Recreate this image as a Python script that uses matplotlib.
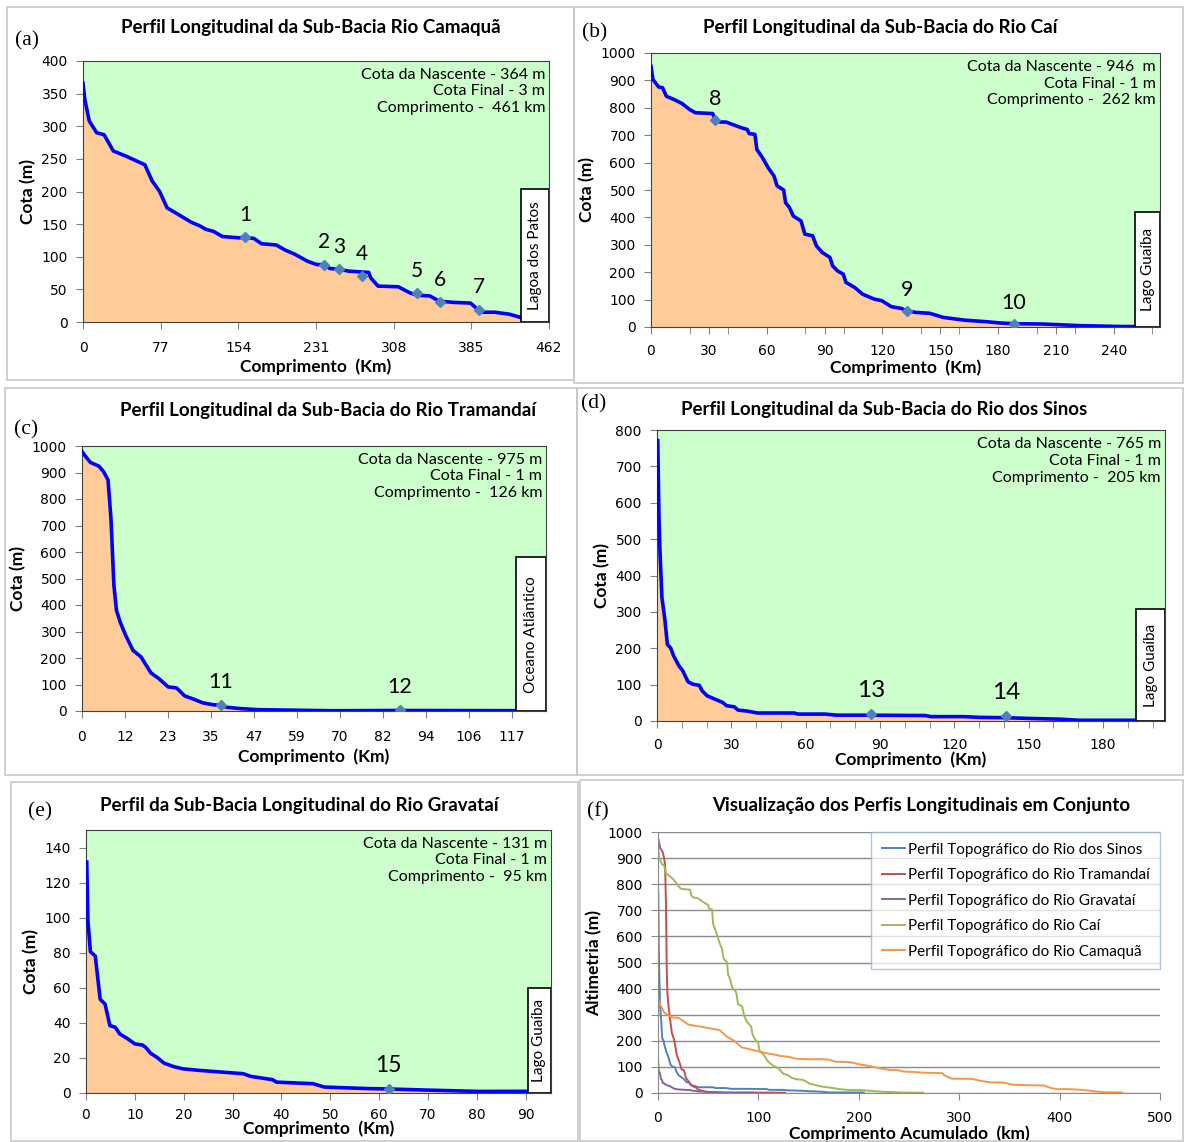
import numpy as np
import matplotlib.pyplot as plt
from matplotlib.patches import Rectangle

# ---- (a) Rio Camaquã ----
cam_km = [0, 1.8, 6.2, 13.6, 20.9, 30.1, 42.9, 61.3, 68.6, 76, 83.3, 94.3, 107.2, 116.3, 121.8,
          129.2, 138.3, 154.9, 161.1, 169.5, 176.9, 191.6, 200.7, 209.9, 222.7, 231.9, 238.5,
          244.8, 253.9, 263.1, 283.3, 285.1, 292.5, 312.6, 323.7, 331, 343.8, 353, 367.7,
          384.2, 391.6, 397.1, 408, 422.7, 433.7, 444.8, 462]
cam_m = [366, 341, 308, 290, 287, 262, 254, 241, 216, 200, 175, 165, 153, 147, 142,
         139, 131, 129, 130, 128, 120, 118, 110, 104, 93, 88, 88,
         82, 81, 78, 76, 68, 55, 54, 45, 41, 40, 32, 30,
         29, 19, 15, 15, 12, 7, 3, 2]
cam_mk_km = [161.1, 238.5, 253.9, 276.7, 331, 353.7, 392.3]
cam_mk_m = [130, 88, 81, 70, 44, 31, 19]
cam_mk_lab = ['1', '2', '3', '4', '5', '6', '7']

# ---- (b) Rio Caí ----
cai_km = [0, 1, 3, 4, 6, 8, 12, 16, 20, 23, 32, 33.3, 35.9, 38.9, 43.9, 46.9, 49.9, 50.9, 53.9,
          54.9, 57.8, 60.8, 63.8, 65.4, 68.8, 69.8, 71.8, 73.8, 77.8, 79.8, 83.8, 85.8, 88.8,
          92.8, 94.2, 96.7, 99.7, 101.1, 105.7, 109.7, 115.7, 119.7, 124.7, 129.7, 132.6,
          137.6, 144.6, 151.6, 162.6, 174.5, 180.5, 188.1, 202.5, 222.4, 242.4, 263.9]
cai_m = [951, 903, 885, 876, 873, 842, 830, 816, 794, 782, 779, 755, 748, 748, 735, 727, 721, 706, 703,
         648, 618, 581, 551, 515, 500, 454, 436, 405, 387, 339, 333, 296, 272,
         254, 223, 205, 193, 163, 144, 120, 102, 96, 74, 68, 59,
         53, 50, 35, 25, 19, 15, 12, 11, 5, 2, 1]
cai_mk_km = [33.3, 132.6, 188.1]
cai_mk_m = [755, 59, 11]
cai_mk_lab = ['8', '9', '10']

# ---- (c) Rio Tramandaí ----
tra_km = [0, 1, 2.3, 4.6, 5.9, 7.1, 7.9, 8.7, 9.4, 10.4, 11.9, 13.9, 16.1, 18.8, 21, 23.5,
          25.8, 28, 30.6, 32.9, 35.6, 37.8, 39.6, 43.2, 48.2, 58.3, 68.4, 86.7, 126.6]
tra_m = [979, 960, 938, 924, 903, 872, 727, 475, 380, 336, 286, 229, 204, 144, 122, 91,
         87, 57, 44, 31, 24, 21, 14, 9, 5, 3, 1, 2, 1]
tra_mk_km = [37.8, 86.7]
tra_mk_m = [21, 2]
tra_mk_lab = ['11', '12']

# ---- (d) Rio dos Sinos ----
sin_km = [0.3, 0.8, 1.2, 2, 3.1, 4.2, 5.5, 6.7, 8.9, 10.4, 12.5, 14.5, 17.1, 18.2, 20.3, 23.4,
          26.5, 28.1, 31.2, 32.7, 36.6, 40.5, 55.3, 56.9, 67.8, 72.5, 86.5, 108.3, 110.6,
          123.9, 130.1, 141, 150.4, 162.9, 170.6, 186.2, 204.9]
sin_m = [771, 557, 466, 338, 283, 210, 201, 179, 151, 138, 108, 101, 98, 83, 69, 60,
         51, 42, 39, 30, 27, 22, 22, 19, 19, 16, 16, 15, 12,
         12, 10, 9, 7, 5, 2, 2, 2]
sin_mk_km = [86.5, 141]
sin_mk_m = [20, 13]
sin_mk_lab = ['13', '14']

# ---- (e) Rio Gravataí ----
gra_km = [0.15, 0.4, 0.9, 1.9, 2.9, 3.9, 4.9, 6, 6.9, 8.4, 10, 11.5, 12.2, 13.2, 14.5, 16,
          17.9, 19.8, 23.2, 32.2, 33.7, 38.2, 39, 46.5, 48.8, 57.9, 62, 69.2, 80.5, 95.1]
gra_m = [131.7, 98, 80.6, 78.1, 53.5, 50.7, 38.4, 37.5, 33.7, 31.2, 28, 27.4, 26.1, 22.7, 20.4, 17,
         15.1, 13.8, 12.9, 11, 9.5, 7.6, 6.2, 5.3, 3.4, 2.5, 2.3, 1.7, 0.9, 1]
gra_mk_km = [62]
gra_mk_m = [2.3]
gra_mk_lab = ['15']

W, H = 1184, 1142
fig = plt.figure(figsize=(W / 100, H / 100), dpi=100)

SANS = ['Lato', 'DejaVu Sans']
GREEN = '#CCFFCC'
ORANGE = '#FFCC99'


def rect(x0, y0, x1, y1):
    # pixel box -> figure fraction [left, bottom, width, height]
    return [x0 / W, 1 - y1 / H, (x1 - x0) / W, (y1 - y0) / H]


def ftext(x, y, s, **kw):
    fig.text(x / W, 1 - y / H, s, **kw)


# light grey frames around panels
for x0, y0, x1, y1 in [(7, 7, 574, 380), (574, 7, 1183, 383), (5, 388, 577, 775),
                       (577, 388, 1183, 775), (11, 782, 578, 1141), (580, 780, 1183, 1141)]:
    fig.patches.append(Rectangle((x0 / W, 1 - y1 / H), (x1 - x0) / W, (y1 - y0) / H,
                                 transform=fig.transFigure, fill=False,
                                 edgecolor='#C8C8C8', lw=1.2))


def profile(box, km, m, xmax, ymax, yticks, xticks, xticklabels, mk_km, mk_m, mk_lab,
            info, lake, lake_x, lake_top, lab_size=15, lab_off=15, minor=None,
            xpad=9, xlabpad=2):
    ax = fig.add_axes(rect(*box))
    ax.set_facecolor(GREEN)
    ax.fill_between(km, m, 0, color=ORANGE, lw=0)
    ax.plot(km, m, color='#0000FF', lw=2.6, solid_joinstyle='round', zorder=3)
    ax.plot(mk_km, mk_m, 'D', color='#4F81BD', ms=5, zorder=4)
    for x, y, s in zip(mk_km, mk_m, mk_lab):
        ax.annotate(s, (x, y), xytext=(0, lab_off), textcoords='offset points',
                    ha='center', va='center', fontsize=lab_size, family=SANS)
    ax.set_xlim(0, xmax)
    ax.set_ylim(0, ymax)
    ax.set_yticks(yticks)
    ax.set_xticks(xticks)
    ax.set_xticklabels(xticklabels)
    if minor is not None:
        ax.set_xticks(minor, minor=True)
        ax.tick_params(axis='x', which='major', length=0)
        ax.tick_params(axis='x', which='minor', length=5, color='#808080')
    ax.tick_params(labelsize=10, color='#808080', length=5, pad=6)
    ax.tick_params(axis='x', pad=xpad)
    for sp in ax.spines.values():
        sp.set_color('#404040')
    ax.set_xlabel('Comprimento  (Km)', fontsize=12.5, fontweight='bold', family=SANS,
                  labelpad=xlabpad)
    ax.set_ylabel('Cota (m)', fontsize=12.5, fontweight='bold', family=SANS, labelpad=4)
    ax.text(0.992, 0.975, info, transform=ax.transAxes, ha='right', va='top',
            fontsize=11.5, family=SANS, linespacing=1.25)
    ax.add_patch(Rectangle((lake_x, 0), 1 - lake_x, lake_top, transform=ax.transAxes,
                           facecolor='white', edgecolor='black', lw=1.2, zorder=5))
    ax.text((lake_x + 1) / 2, lake_top / 2, lake, transform=ax.transAxes, rotation=90,
            ha='center', va='center', fontsize=11, family=SANS, zorder=6)
    return ax


# (a)
profile((83, 61, 549, 322), cam_km, cam_m, 462, 400, range(0, 401, 50),
        np.arange(0, 463, 77), [str(v) for v in range(0, 463, 77)],
        cam_mk_km, cam_mk_m, cam_mk_lab,
        'Cota da Nascente - 364 m\nCota Final - 3 m\nComprimento -  461 km',
        'Lagoa dos Patos', 0.94, 0.51, lab_size=15, lab_off=16)
# (b)
profile((651, 53, 1160, 327), cai_km, cai_m, 264, 1000, range(0, 1001, 100),
        range(0, 241, 30), [str(v) for v in range(0, 241, 30)],
        cai_mk_km, cai_mk_m, cai_mk_lab,
        'Cota da Nascente - 946  m\nCota Final - 1 m\nComprimento -  262 km',
        'Lago Guaíba', 0.951, 0.42, lab_size=15.5, lab_off=15, minor=np.arange(0, 264, 20),
        xpad=7, xlabpad=1)
# (c)
tra_ticks = np.arange(11) * 11.73
profile((82, 446, 546, 711), tra_km, tra_m, 126.6, 1000, range(0, 1001, 100),
        tra_ticks, ['%d' % round(v) for v in tra_ticks],
        tra_mk_km, tra_mk_m, tra_mk_lab,
        'Cota da Nascente - 975 m\nCota Final - 1 m\nComprimento -  126 km',
        'Oceano Atlântico', 0.935, 0.58, lab_size=15.5, lab_off=17, xlabpad=3)
# (d)
profile((657, 430, 1165, 721), sin_km, sin_m, 205, 800, range(0, 801, 100),
        range(0, 181, 30), [str(v) for v in range(0, 181, 30)],
        sin_mk_km, sin_mk_m, sin_mk_lab,
        'Cota da Nascente - 765 m\nCota Final - 1 m\nComprimento -  205 km',
        'Lago Guaíba', 0.943, 0.385, lab_size=17.5, lab_off=17, minor=np.arange(0, 205, 10),
        xpad=7, xlabpad=0)
# (e)
profile((86, 830, 551, 1093), gra_km, gra_m, 95.2, 150, range(0, 141, 20),
        range(0, 91, 10), [str(v) for v in range(0, 91, 10)],
        gra_mk_km, gra_mk_m, gra_mk_lab,
        'Cota da Nascente - 131 m\nCota Final - 1 m\nComprimento -  95 km',
        'Lago Guaíba', 0.95, 0.40, lab_size=16.5, lab_off=17, xpad=6, xlabpad=-1)

# (f) all profiles together
axf = fig.add_axes(rect(658, 832, 1160, 1093))
series = [(sin_km, sin_m, '#4F81BD', 'Perfil Topográfico do Rio dos Sinos'),
          (tra_km, tra_m, '#C0504D', 'Perfil Topográfico do Rio Tramandaí'),
          (gra_km, gra_m, '#8064A2', 'Perfil Topográfico do Rio Gravataí'),
          (cai_km, cai_m, '#9BBB59', 'Perfil Topográfico do Rio Caí'),
          (cam_km, cam_m, '#F79646', 'Perfil Topográfico do Rio Camaquã')]
for km, m, c, lab in series:
    axf.plot(km, m, color=c, lw=1.4, label=lab)
axf.set_xlim(0, 500)
axf.set_ylim(0, 1000)
axf.set_yticks(range(0, 1001, 100))
axf.set_xticks(range(0, 501, 100))
axf.grid(axis='y', color='#8C8C8C', lw=1)
axf.set_axisbelow(True)
for s in ('top', 'right'):
    axf.spines[s].set_visible(False)
for s in ('left', 'bottom'):
    axf.spines[s].set_color('#8C8C8C')
axf.tick_params(labelsize=10, color='#8C8C8C', length=5, pad=6)
axf.tick_params(axis='x', pad=8)
axf.set_xlabel('Comprimento Acumulado  (km)', fontsize=12.5, fontweight='bold', family=SANS, labelpad=0)
axf.set_ylabel('Altimetria (m)', fontsize=12.5, fontweight='bold', family=SANS, labelpad=4)
leg = axf.legend(loc='upper right', bbox_to_anchor=(1.0, 1.0), prop={'family': SANS, 'size': 11},
                 frameon=True, fancybox=False, framealpha=0.75, edgecolor='#95B3D7',
                 handlelength=1.5, handletextpad=0.2, labelspacing=0.75, borderpad=0.7,
                 borderaxespad=0)

# titles and panel letters
tk = dict(fontsize=13.5, fontweight='bold', family=SANS, ha='center', va='center')
ftext(311, 27, 'Perfil Longitudinal da Sub-Bacia Rio Camaquã', **tk)
ftext(880, 27, 'Perfil Longitudinal da Sub-Bacia do Rio Caí', **tk)
ftext(328, 410, 'Perfil Longitudinal da Sub-Bacia do Rio Tramandaí', **tk)
ftext(884, 409, 'Perfil Longitudinal da Sub-Bacia do Rio dos Sinos', **tk)
ftext(299, 805, 'Perfil da Sub-Bacia Longitudinal do Rio Gravataí', **tk)
ftext(921, 805, 'Visualização dos Perfis Longitudinais em Conjunto', **tk)

pk = dict(fontsize=15.5, family='Liberation Serif', ha='center', va='center')
ftext(27, 41, '(a)', **pk)
ftext(595, 33, '(b)', **pk)
ftext(26, 430, '(c)', **pk)
ftext(594, 404, '(d)', **pk)
ftext(40, 812, '(e)', **pk)
ftext(598, 812, '(f)', **pk)

fig.savefig('out.png', dpi=100)
